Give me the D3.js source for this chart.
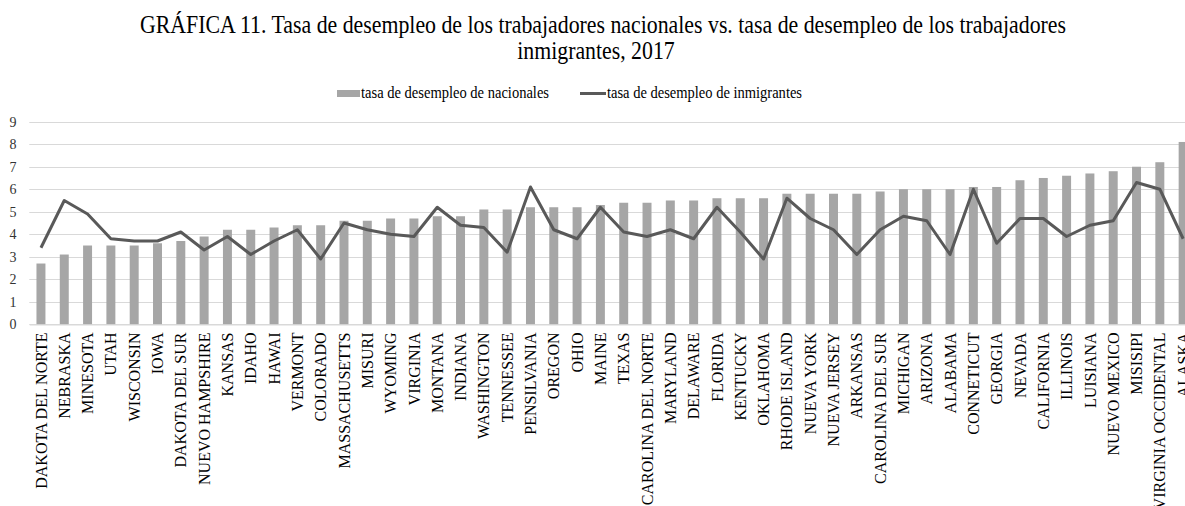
<!DOCTYPE html>
<html>
<head>
<meta charset="utf-8">
<script src="https://cdn.jsdelivr.net/npm/d3@7/dist/d3.min.js"></script>
<style>
  html, body { margin: 0; padding: 0; background: #fff; overflow: hidden; }
  svg { display: block; }
  svg text { font-family: "Liberation Serif", "Times New Roman", serif; }
</style>
</head>
<body>
<svg id="chart" width="1185" height="506"></svg>
<script>
const states = ["DAKOTA DEL NORTE","NEBRASKA","MINESOTA","UTAH","WISCONSIN","IOWA","DAKOTA DEL SUR","NUEVO HAMPSHIRE","KANSAS","IDAHO","HAWAI","VERMONT","COLORADO","MASSACHUSETTS","MISURI","WYOMING","VIRGINIA","MONTANA","INDIANA","WASHINGTON","TENNESSEE","PENSILVANIA","OREGON","OHIO","MAINE","TEXAS","CAROLINA DEL NORTE","MARYLAND","DELAWARE","FLORIDA","KENTUCKY","OKLAHOMA","RHODE ISLAND","NUEVA YORK","NUEVA JERSEY","ARKANSAS","CAROLINA DEL SUR","MICHIGAN","ARIZONA","ALABAMA","CONNETICUT","GEORGIA","NEVADA","CALIFORNIA","ILLINOIS","LUISIANA","NUEVO MEXICO","MISISIPI","VIRGINIA OCCIDENTAL","ALASKA"];
const nacionales = [2.7,3.1,3.5,3.5,3.5,3.6,3.7,3.9,4.2,4.2,4.3,4.4,4.4,4.6,4.6,4.7,4.7,4.8,4.8,5.1,5.1,5.2,5.2,5.2,5.3,5.4,5.4,5.5,5.5,5.6,5.6,5.6,5.8,5.8,5.8,5.8,5.9,6.0,6.0,6.0,6.1,6.1,6.4,6.5,6.6,6.7,6.8,7.0,7.2,8.1];
const inmigrantes = [3.4,5.5,4.9,3.8,3.7,3.7,4.1,3.3,3.9,3.1,3.7,4.2,2.9,4.5,4.2,4.0,3.9,5.2,4.4,4.3,3.2,6.1,4.2,3.8,5.2,4.1,3.9,4.2,3.8,5.2,4.1,2.9,5.6,4.7,4.2,3.1,4.2,4.8,4.6,3.1,6.0,3.6,4.7,4.7,3.9,4.4,4.6,6.3,6.0,3.8];
const yTicks = [0,1,2,3,4,5,6,7,8,9];
const titleLines = ["GRÁFICA 11. Tasa de desempleo de los trabajadores nacionales vs. tasa de desempleo de los trabajadores", "inmigrantes, 2017"];
const legendLabels = ["tasa de desempleo de nacionales", "tasa de desempleo de inmigrantes"];

const SERIF = "'Liberation Serif', 'Times New Roman', serif";
const svg = d3.select("#chart");
const pLeft = 29.3, pRight = 1194.8, pTop = 121.7, pBottom = 324.3;

const x = d3.scaleBand().domain(states).range([pLeft, pRight]).paddingInner(0.615).paddingOuter(0.3075);
const y = d3.scaleLinear().domain([0, 9]).range([pBottom, pTop]);

function squeeze(sel, k) {
  sel.each(function() {
    const L = this.getComputedTextLength();
    d3.select(this).attr("textLength", L * k).attr("lengthAdjust", "spacingAndGlyphs");
  });
}

// title
const titles = svg.append("g").selectAll("text").data(titleLines).join("text")
  .attr("x", (d, i) => i === 0 ? 603 : 596).attr("y", (d, i) => 33 + i * 26)
  .attr("text-anchor", "middle")
  .style("font-family", SERIF)
  .attr("font-size", 25).attr("fill", "#000")
  .text(d => d);
const natural1 = titles.node().getComputedTextLength();
squeeze(titles, 926 / natural1);

// gridlines
svg.append("g").selectAll("line").data(yTicks).join("line")
  .attr("x1", pLeft).attr("x2", 1185)
  .attr("y1", d => Math.round(y(d)) + 0.5).attr("y2", d => Math.round(y(d)) + 0.5)
  .attr("stroke", "#d9d9d9").attr("stroke-width", 1);

// y axis labels
const yAxis = d3.axisLeft(y).tickValues(yTicks).tickSize(0).tickPadding(0);
const gy = svg.append("g").attr("transform", "translate(17,0)").call(yAxis);
gy.attr("font-family", null);
gy.select(".domain").remove();
gy.selectAll("text").attr("font-size", 14).style("font-family", SERIF).attr("fill", "#333").attr("text-anchor", "middle").attr("x", -4);

// bars
svg.append("g").selectAll("rect").data(nacionales).join("rect")
  .attr("x", (d, i) => x(states[i]))
  .attr("width", x.bandwidth())
  .attr("y", d => y(d))
  .attr("height", d => y(0) - y(d))
  .attr("fill", "#a6a6a6");

// x axis
const xAxis = d3.axisBottom(x).tickSize(0).tickPadding(0);
const gx = svg.append("g").attr("transform", `translate(0,${Math.round(pBottom) + 0.5})`).call(xAxis);
gx.attr("font-family", null);
gx.select(".domain").attr("stroke", "#d9d9d9");
gx.selectAll("text")
  .attr("font-size", 16).style("font-family", SERIF).attr("fill", "#000")
  .attr("text-anchor", "end")
  .attr("transform", "rotate(-90)")
  .attr("x", -8).attr("y", 0).attr("dy", "0.35em");

// line
const line = d3.line().x((d, i) => x(states[i]) + x.bandwidth() / 2).y(d => y(d));
svg.append("path").datum(inmigrantes)
  .attr("d", line).attr("fill", "none")
  .attr("stroke", "#595959").attr("stroke-width", 3).attr("stroke-linejoin", "round");

// legend
const lg = svg.append("g");
lg.append("rect").attr("x", 337).attr("y", 90).attr("width", 23).attr("height", 7).attr("fill", "#a6a6a6");
const t1 = lg.append("text").attr("x", 361).attr("y", 98).attr("font-size", 16).style("font-family", SERIF).text(legendLabels[0]);
lg.append("line").attr("x1", 580).attr("x2", 606).attr("y1", 93.5).attr("y2", 93.5).attr("stroke", "#595959").attr("stroke-width", 3);
const t2 = lg.append("text").attr("x", 607).attr("y", 98).attr("font-size", 16).style("font-family", SERIF).text(legendLabels[1]);
t1.attr("textLength", 188).attr("lengthAdjust", "spacingAndGlyphs");
t2.attr("textLength", 195).attr("lengthAdjust", "spacingAndGlyphs");
</script>
</body>
</html>
